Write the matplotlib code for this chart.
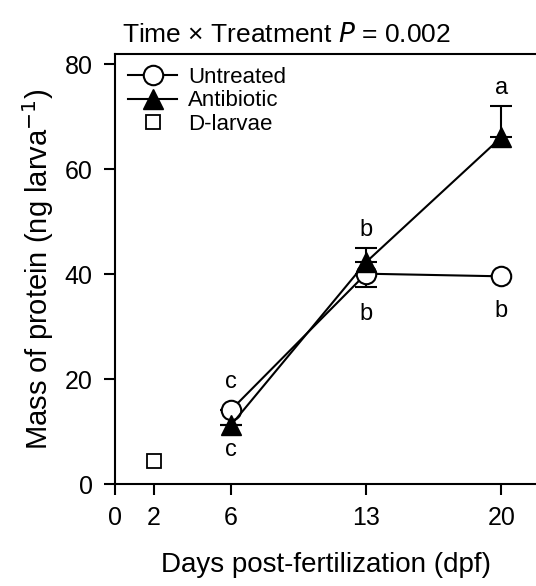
import numpy as np
import matplotlib
matplotlib.use("Agg")
import matplotlib.pyplot as plt

plt.rcParams['font.family'] = ['Liberation Sans', 'DejaVu Sans']

# data
days = [6, 13, 20]
untreated = [14.1, 40.1, 39.6]
untreated_err = [0.0, 2.5, 0.0]
antibiotic = [11.2, 42.3, 66.1]
antibiotic_err = [0.0, 2.7, 6.0]
dlarvae_day = [2]
dlarvae = [4.4]

# significance letters
letters_x = [6, 6, 13, 13, 20, 20]
letters_y = [19.5, 6.5, 48.5, 32.5, 33.0, 75.5]
letters = ['c', 'c', 'b', 'b', 'b', 'a']

xticks = [0, 2, 6, 13, 20]
yticks = [0, 20, 40, 60, 80]

fig = plt.figure(figsize=(5.36, 5.86), dpi=100)
ax = fig.add_axes([0.2146, 0.174, 0.7854, 0.734])

# one-sided error bars
ax.errorbar(days, antibiotic, yerr=[np.zeros(3), antibiotic_err], fmt='none',
            ecolor='black', elinewidth=1.5, capsize=8, capthick=1.5, zorder=2)
ax.errorbar(days, untreated, yerr=[untreated_err, np.zeros(3)], fmt='none',
            ecolor='black', elinewidth=1.5, capsize=8, capthick=1.5, zorder=2)

ax.plot(days, untreated, '-o', color='black', lw=1.5, markersize=14,
        markerfacecolor='white', markeredgewidth=1.5, label='Untreated', zorder=3)
ax.plot(days, antibiotic, '-^', color='black', lw=1.5, markersize=14,
        markerfacecolor='black', label='Antibiotic', zorder=4)
ax.plot(dlarvae_day, dlarvae, 's', color='black', markersize=10,
        markerfacecolor='white', markeredgewidth=1.3, label='D-larvae', zorder=3)

for x, y, t in zip(letters_x, letters_y, letters):
    ax.text(x, y, t, ha='center', va='center', fontsize=17)

ax.set_xlim(0, 21.8)
ax.set_ylim(0, 82)
ax.set_xticks(xticks)
ax.set_yticks(yticks)
ax.tick_params(direction='out', length=8, width=1.5, labelsize=18, pad=8)
ax.spines['right'].set_visible(False)
for s in ['left', 'bottom', 'top']:
    ax.spines[s].set_linewidth(1.5)

ax.set_xlabel('Days post-fertilization (dpf)', fontsize=20, labelpad=16)
ax.set_ylabel('Mass of protein (ng larva$^{-1}$)', fontsize=21, labelpad=6)
fig.text(286 / 536, 1 - 35 / 586, 'Time × Treatment $\\mathit{P}$ = 0.002',
         ha='center', va='center', fontsize=19)

ax.legend(loc='upper left', frameon=False, fontsize=16, handlelength=2.2,
          borderaxespad=0.2, handletextpad=0.5, labelspacing=0.1,
          borderpad=0.4)

fig.savefig('out.png', dpi=100)
